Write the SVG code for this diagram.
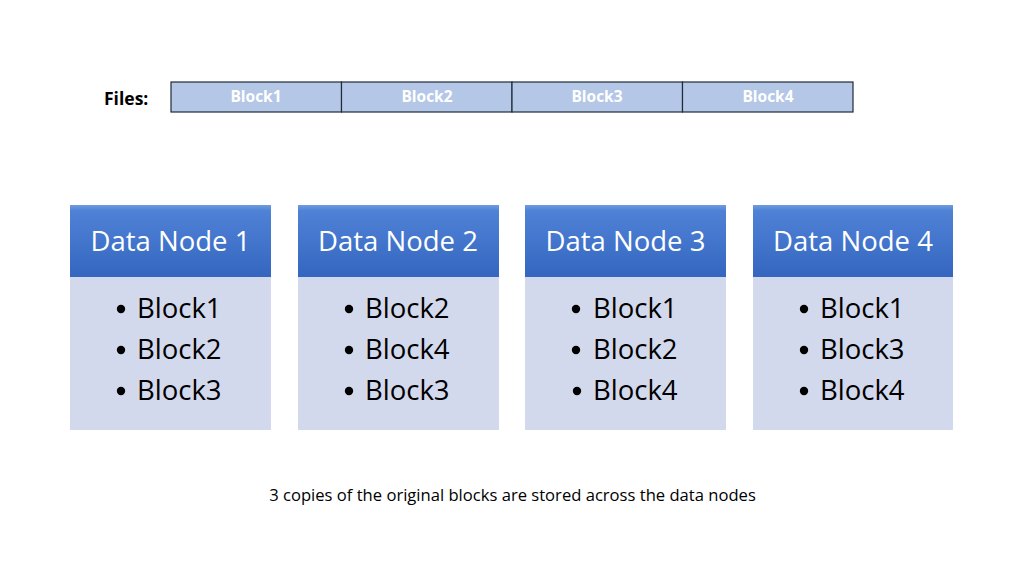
<svg xmlns="http://www.w3.org/2000/svg" width="1024" height="576" viewBox="0 0 1024 576">
<defs>
<linearGradient id="hg" x1="0" y1="0" x2="0" y2="1">
<stop offset="0" stop-color="#6f9be0"/>
<stop offset="0.08" stop-color="#4f82d6"/>
<stop offset="1" stop-color="#3466c0"/>
</linearGradient>
<style>
.fb{fill:#b4c7e7;stroke:#1f2a3a;stroke-width:1.2}
.fbt{font-family:"Open Sans","Liberation Sans",sans-serif;font-weight:bold;font-size:15.5px;fill:#ffffff;text-anchor:middle}
.hd{fill:url(#hg)}
.bd{fill:#d3d9ec}
.ht{font-family:"Open Sans","Liberation Sans",sans-serif;font-size:27.5px;fill:#ffffff;text-anchor:middle}
.it{font-family:"Open Sans","Liberation Sans",sans-serif;font-size:27.5px;fill:#000000}
.cap{font-family:"Open Sans","Liberation Sans",sans-serif;font-size:16.6px;fill:#000000;text-anchor:middle}
</style>
</defs>
<rect width="1024" height="576" fill="#ffffff"/>
<g id="files">
<text x="104" y="105" font-family="Open Sans, Liberation Sans, sans-serif" font-weight="bold" font-size="17.5" fill="#000">Files:</text>
<rect class="fb" x="171" y="82" width="170.5" height="30"/>
<rect class="fb" x="341.5" y="82" width="170.5" height="30"/>
<rect class="fb" x="512" y="82" width="170.5" height="30"/>
<rect class="fb" x="682.5" y="82" width="170.5" height="30"/>
<text class="fbt" x="256" y="102">Block1</text>
<text class="fbt" x="427" y="102">Block2</text>
<text class="fbt" x="597" y="102">Block3</text>
<text class="fbt" x="768" y="102">Block4</text>
</g>
<g id="node1">
<rect class="bd" x="70" y="277" width="201" height="153"/>
<rect class="hd" x="70" y="205" width="201" height="72"/>
<text class="ht" x="170.5" y="251">Data Node 1</text>
<circle cx="121" cy="309" r="4.2"/><text class="it" x="137" y="318">Block1</text>
<circle cx="121" cy="350" r="4.2"/><text class="it" x="137" y="359">Block2</text>
<circle cx="121" cy="391" r="4.2"/><text class="it" x="137" y="400">Block3</text>
</g>
<g id="node2">
<rect class="bd" x="298" y="277" width="201" height="153"/>
<rect class="hd" x="298" y="205" width="201" height="72"/>
<text class="ht" x="398" y="251">Data Node 2</text>
<circle cx="349" cy="309" r="4.2"/><text class="it" x="365" y="318">Block2</text>
<circle cx="349" cy="350" r="4.2"/><text class="it" x="365" y="359">Block4</text>
<circle cx="349" cy="391" r="4.2"/><text class="it" x="365" y="400">Block3</text>
</g>
<g id="node3">
<rect class="bd" x="525" y="277" width="201" height="153"/>
<rect class="hd" x="525" y="205" width="201" height="72"/>
<text class="ht" x="625.5" y="251">Data Node 3</text>
<circle cx="576" cy="309" r="4.2"/><text class="it" x="593" y="318">Block1</text>
<circle cx="576" cy="350" r="4.2"/><text class="it" x="593" y="359">Block2</text>
<circle cx="577" cy="391" r="4.2"/><text class="it" x="593" y="400">Block4</text>
</g>
<g id="node4">
<rect class="bd" x="753" y="277" width="200" height="153"/>
<rect class="hd" x="753" y="205" width="200" height="72"/>
<text class="ht" x="853" y="251">Data Node 4</text>
<circle cx="804" cy="309" r="4.2"/><text class="it" x="820" y="318">Block1</text>
<circle cx="804" cy="350" r="4.2"/><text class="it" x="820" y="359">Block3</text>
<circle cx="804" cy="391" r="4.2"/><text class="it" x="820" y="400">Block4</text>
</g>
<g id="connectors"></g>
<text class="cap" x="512.5" y="501">3 copies of the original blocks are stored across the data nodes</text>
</svg>
